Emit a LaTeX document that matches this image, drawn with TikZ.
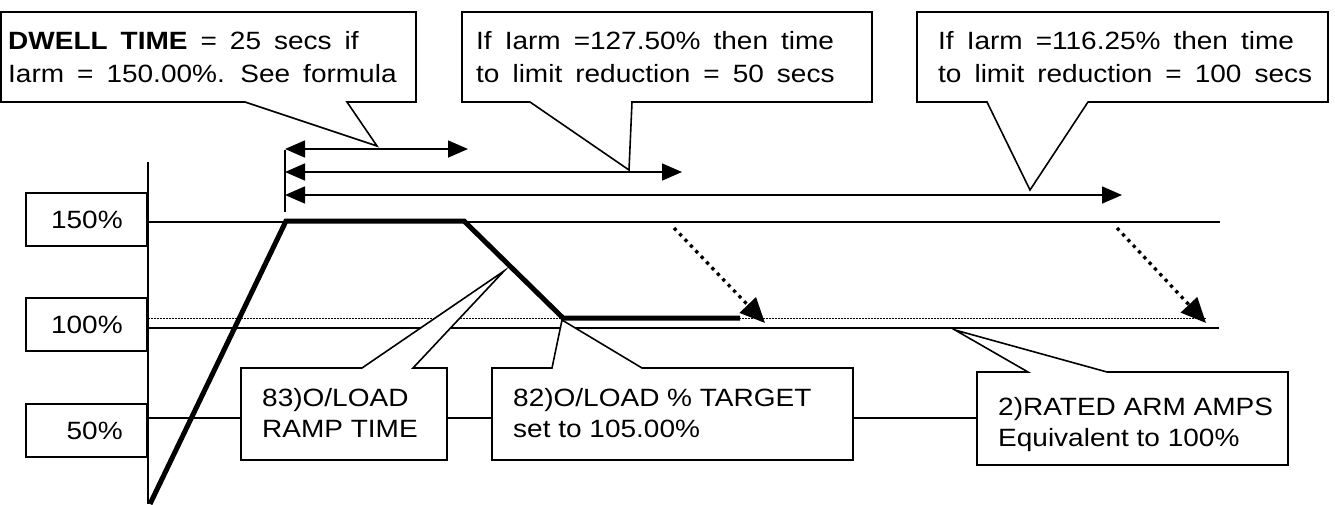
\documentclass[tikz,border=0pt]{standalone}
\usepackage{fontspec}
\setmainfont{Liberation Sans}[FakeStretch=1.12]
\usetikzlibrary{arrows.meta}
\begin{document}
\begin{tikzpicture}[x=1pt,y=-1pt,
  ln/.style={line width=1.6pt},
  heavy/.style={line width=5pt},
  finedot/.style={line width=1pt, dash pattern=on 1.5pt off 1.5pt},
  callout/.style={draw, line width=1.6pt, fill=white},
  txt/.style={anchor=base west, inner sep=0pt, font=\fontsize{25}{30}\selectfont},
  wtxt/.style={txt, execute at begin node={\spaceskip=13pt plus 1pt\relax}},
  lbl/.style={draw, line width=1.6pt, anchor=east, minimum height=53pt, text width=72pt,
    inner xsep=24.5pt, inner ysep=0pt, align=right, font=\fontsize{25}{30}\selectfont},
  dbl/.style={line width=1.6pt, {Triangle[length=20pt,width=17pt]}-{Triangle[length=20pt,width=17pt]}},
  dotarrow/.style={line width=3.3pt, dash pattern=on 3.3pt off 4.5pt, -{Triangle[length=25pt,width=22pt]}}
]
\useasboundingbox (0,0) rectangle (1335,504);

% axis and level lines
\coordinate (axtop) at (148,162);
\coordinate (axbot) at (148,504);
\draw[ln] (axtop) -- (axbot);
\coordinate (l150a) at (148,222); \coordinate (l150b) at (1220,222);
\coordinate (l100a) at (148,328); \coordinate (l100b) at (1219,328);
\coordinate (d100a) at (148,318); \coordinate (d100b) at (1207,318);
\draw[ln] (l150a) -- (l150b);
\draw[ln] (l100a) -- (l100b);
\draw[finedot] (d100a) -- (d100b);

% level labels
\node[lbl] (p150) at (148,219.5) {150\%};
\node[lbl] (p100) at (148,324.5) {100\%};
\node[lbl] (p50)  at (148,430.5) {50\%};

% time arrows
\coordinate (tickt) at (285,150); \coordinate (tickb) at (285,212);
\draw[ln] (tickt) -- (tickb);
\coordinate (a1s) at (285,149); \coordinate (a1e) at (468,149);
\coordinate (a2s) at (285,172); \coordinate (a2e) at (682,172);
\coordinate (a3s) at (285,195); \coordinate (a3e) at (1122,195);
\draw[dbl] (a1s) -- (a1e);
\draw[dbl] (a2s) -- (a2e);
\draw[dbl] (a3s) -- (a3e);

% dotted arrows
\coordinate (da1) at (674,228); \coordinate (da2) at (765,323);
\coordinate (db1) at (1117,228); \coordinate (db2) at (1206,323);
\draw[dotarrow] (da1) -- (da2);
\draw[dotarrow] (db1) -- (db2);

% top callouts
\draw[callout] (1,12) -- (416,12) -- (416,102) -- (347,102) -- (377,146) -- (245,102) -- (1,102) -- cycle;
\draw[callout] (462,12) -- (872,12) -- (872,102) -- (632,102) -- (629,170) -- (530,102) -- (462,102) -- cycle;
\draw[callout] (917,12) -- (1328,12) -- (1328,102) -- (1088,102) -- (1030,190) -- (987,102) -- (917,102) -- cycle;

\node[wtxt] (c1a) at (8,49) {\textbf{DWELL TIME} = 25 secs if};
\node[wtxt] (c1b) at (8,82) {Iarm = 150.00\%. See formula};
\node[wtxt] (c2a) at (476,49) {If Iarm =127.50\% then time};
\node[wtxt] (c2b) at (476,82) {to limit reduction = 50 secs};
\node[wtxt] (c3a) at (938,49) {If Iarm =116.25\% then time};
\node[wtxt] (c3b) at (938,82) {to limit reduction = 100 secs};

% lower callouts
\coordinate (b83w) at (241,418); \coordinate (b83e) at (447,418);
\coordinate (b82w) at (492,418); \coordinate (b82e) at (853,418);
\coordinate (b2w) at (977,418);
\coordinate (ax50) at (148,418);
\draw[ln] (ax50) -- (b83w);
\draw[ln] (b83e) -- (b82w);
\draw[ln] (b82e) -- (b2w);

\draw[callout] (241,368) -- (362,368) -- (504,271) -- (413,368) -- (447,368) -- (447,460) -- (241,460) -- cycle;
\draw[callout] (492,368) -- (552,368) -- (562,320) -- (642,368) -- (853,368) -- (853,460) -- (492,460) -- cycle;
\draw[callout] (977,372) -- (1028,372) -- (955,330) -- (1107,372) -- (1288,372) -- (1288,465) -- (977,465) -- cycle;

\node[txt] (r1a) at (262,406) {83)O/LOAD};
\node[txt] (r1b) at (262,437) {RAMP TIME};
\node[txt] (r2a) at (513,406) {82)O/LOAD \% TARGET};
\node[txt] (r2b) at (513,437) {set to 105.00\%};
\node[txt] (r3a) at (998,415) {2)RATED ARM AMPS};
\node[txt] (r3b) at (998,446) {Equivalent to 100\%};

% heavy profile
\coordinate (h0) at (150,504);
\coordinate (h1) at (286,221);
\coordinate (h2) at (464,221);
\coordinate (h3) at (563,318);
\coordinate (h4) at (740,318);
\draw[heavy] (h0) -- (h1) -- (h2) -- (h3) -- (h4);
\end{tikzpicture}
\end{document}
